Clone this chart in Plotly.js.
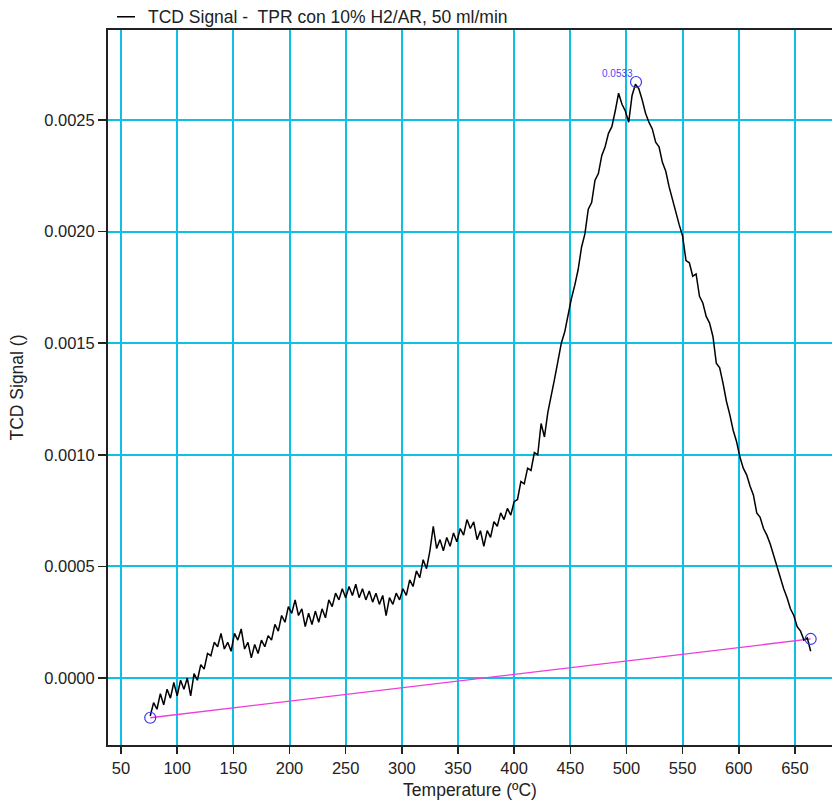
<!DOCTYPE html>
<html>
<head>
<meta charset="utf-8">
<script src="https://cdn.plot.ly/plotly-3.0.1.min.js"></script>
<style>html,body{margin:0;padding:0;background:#fff;}#chart{width:832px;height:801px;}</style>
</head>
<body>
<div id="chart"></div>
<script>
// Temperature (°C) of the recorded TCD signal
const temperature = [
 76,79,82,85,88,91,94,97,100,103,
 106,109,112,115,118,121,124,127,130,133,
 136,139,142,145,148,151,154,157,160,163,
 166,169,172,175,178,181,184,187,190,193,
 196,199,202,205,208,211,214,217,220,223,
 226,229,232,235,238,241,244,247,250,253,
 256,259,262,265,268,271,274,277,280,283,
 286,289,292,295,298,301,304,307,310,313,
 316,319,322,325,328,331,334,337,340,343,
 346,349,352,355,358,361,364,367,370,373,
 376,379,382,385,388,391,394,397,400,403,
 406,409,412,415,418,421,424,427,430,433,
 436,439,442,445,448,451,454,457,460,463,
 466,469,472,475,478,481,484,487,490,493,
 496,499,502,505,508,511,514,517,520,523,
 526,529,532,535,538,541,544,547,550,553,
 556,559,562,565,568,571,574,577,580,583,
 586,589,592,595,598,601,604,607,610,613,
 616,619,622,625,628,631,634,637,640,643,
 646,649,652,655,658,661,664
];
// TCD signal values
const tcdSignal = [
 -0.00017,-0.00011,-0.00014,-0.00007,-0.00012,-0.00005,-0.00009,-0.00002,-0.00008,-0.00001,
 -0.00005,0.00000,-0.00008,0.00002,-0.00001,0.00006,0.00004,0.00011,0.00010,0.00016,
 0.00014,0.00020,0.00013,0.00016,0.00012,0.00020,0.00017,0.00022,0.00013,0.00016,
 0.00009,0.00015,0.00011,0.00017,0.00014,0.00019,0.00017,0.00024,0.00021,0.00028,
 0.00025,0.00032,0.00029,0.00035,0.00028,0.00031,0.00023,0.00029,0.00024,0.00030,
 0.00025,0.00031,0.00027,0.00035,0.00032,0.00038,0.00035,0.00040,0.00036,0.00041,
 0.00037,0.00042,0.00036,0.00040,0.00035,0.00039,0.00034,0.00038,0.00033,0.00037,
 0.00028,0.00036,0.00033,0.00038,0.00035,0.00040,0.00037,0.00044,0.00041,0.00048,
 0.00045,0.00053,0.00049,0.00057,0.00068,0.00058,0.00062,0.00057,0.00063,0.00059,
 0.00065,0.00061,0.00067,0.00064,0.00071,0.00067,0.00070,0.00062,0.00066,0.00059,
 0.00066,0.00063,0.00070,0.00068,0.00074,0.00071,0.00076,0.00073,0.00079,0.00080,
 0.00088,0.00087,0.00094,0.00093,0.00101,0.00100,0.00114,0.00108,0.00119,0.00126,
 0.00134,0.00142,0.00150,0.00155,0.00163,0.00170,0.00176,0.00183,0.00193,0.00199,
 0.00210,0.00213,0.00223,0.00226,0.00234,0.00238,0.00244,0.00247,0.00254,0.00262,
 0.00257,0.00254,0.00249,0.00261,0.00266,0.00264,0.00259,0.00253,0.00249,0.00246,
 0.00240,0.00238,0.00231,0.00227,0.00220,0.00214,0.00209,0.00203,0.00198,0.00187,
 0.00186,0.00180,0.00181,0.00171,0.00168,0.00162,0.00159,0.00153,0.00141,0.00139,
 0.00132,0.00124,0.00118,0.00111,0.00106,0.00099,0.00094,0.00091,0.00086,0.00082,
 0.00074,0.00072,0.00067,0.00064,0.00060,0.00055,0.00049,0.00045,0.00040,0.00036,
 0.00031,0.00028,0.00023,0.00021,0.00017,0.00018,0.00012
];
// Integration baseline end points
const baselineT = [76, 664];
const baselineY = [-0.000178, 0.000175];
// Marked points (start, peak, end)
const markT = [76, 508.5, 664];
const markY = [-0.000178, 0.00267, 0.000175];
const peakLabel = "0.0533";
const xTicks = [50,100,150,200,250,300,350,400,450,500,550,600,650];
const yTicks = [0.0000,0.0005,0.0010,0.0015,0.0020,0.0025];
const legendText = "TCD Signal -  TPR con 10% H2/AR, 50 ml/min";

const grid = '#0cc0e8';
const font = 'Liberation Sans, Arial, sans-serif';

const traces = [
  {x: baselineT, y: baselineY, mode: 'lines', line: {color: '#f03cd8', width: 1.3}, hoverinfo: 'skip'},
  {x: temperature, y: tcdSignal, mode: 'lines', line: {color: '#000', width: 1.5}},
  {x: markT, y: markY, mode: 'markers', marker: {symbol: 'circle-open', size: 11, color: '#3838f0', line: {width: 1.2}}}
];

const layout = {
  width: 832, height: 801,
  margin: {l: 108, r: 0, t: 30, b: 56},
  paper_bgcolor: '#fff', plot_bgcolor: '#fff',
  showlegend: false,
  font: {family: font, size: 16, color: '#222'},
  xaxis: {
    range: [38.4, 683], tickvals: xTicks, ticktext: xTicks.map(String),
    showgrid: true, gridcolor: grid, gridwidth: 2, zeroline: false,
    showline: true, linecolor: '#222', linewidth: 2, mirror: true,
    ticks: 'outside', ticklen: 7, tickcolor: '#222', tickwidth: 1.5,
    tickfont: {family: font, size: 16.5, color: '#222'},
    title: {text: 'Temperature (ºC)', font: {family: font, size: 17.5, color: '#222'}, standoff: 8}
  },
  yaxis: {
    range: [-0.0003, 0.002903], tickvals: yTicks, ticktext: yTicks.map(v => v.toFixed(4)),
    showgrid: true, gridcolor: grid, gridwidth: 2, zeroline: false,
    showline: true, linecolor: '#222', linewidth: 2, mirror: false,
    ticks: 'outside', ticklen: 8, tickcolor: '#222', tickwidth: 1.5,
    tickfont: {family: font, size: 16.5, color: '#222'},
    title: {text: 'TCD Signal ()', font: {family: font, size: 17.5, color: '#222'}, standoff: 16}
  },
  shapes: [
    {type: 'line', xref: 'paper', yref: 'paper', x0: 0.0124, x1: 0.0373, y0: 1.0185, y1: 1.0185, line: {color: '#000', width: 1.5}}
  ],
  annotations: [
    {xref: 'paper', yref: 'paper', x: 0.053, y: 1.0185, xanchor: 'left', yanchor: 'middle', showarrow: false,
     text: legendText, font: {family: font, size: 17.5, color: '#222'}},
    {x: markT[1], y: markY[1], xref: 'x', yref: 'y', xanchor: 'right', yanchor: 'bottom', xshift: -1, yshift: 1, showarrow: false,
     text: peakLabel, font: {family: font, size: 10, color: '#4848f8'}}
  ]
};

Plotly.newPlot('chart', traces, layout, {displayModeBar: false, staticPlot: true});
</script>
</body>
</html>
